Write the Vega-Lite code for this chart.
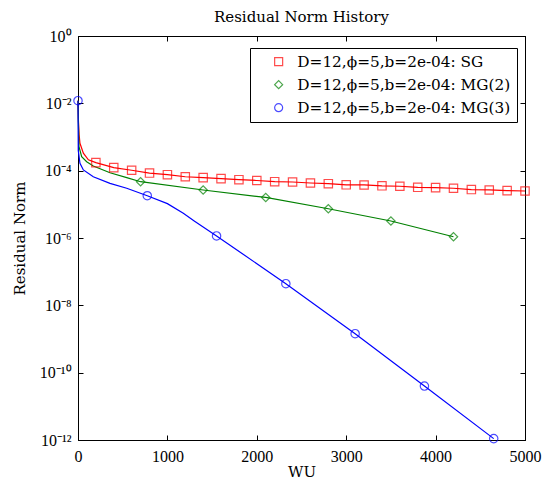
{
  "$schema": "https://vega.github.io/schema/vega-lite/v6.json",
  "width": 447,
  "height": 404,
  "autosize": "none",
  "padding": {"left": 78, "top": 36, "right": 18, "bottom": 44},
  "title": {
    "text": "Residual Norm History",
    "font": "DejaVu Serif",
    "fontSize": 15,
    "fontWeight": "normal",
    "color": "black",
    "offset": 3
  },
  "config": {
    "view": {"stroke": "black", "strokeWidth": 1},
    "axis": {
      "grid": false,
      "domainColor": "black",
      "tickColor": "black",
      "tickSize": -5,
      "labelFlush": false,
      "labelOverlap": false,
      "labelFont": "Liberation Serif",
      "labelFontSize": 16,
      "labelColor": "black",
      "titleFont": "DejaVu Serif",
      "titleFontSize": 15,
      "titleFontWeight": "normal",
      "titleColor": "black"
    },
    "legend": {
      "orient": "none",
      "legendX": 172,
      "legendY": 12,
      "strokeColor": "black",
      "fillColor": "white",
      "padding": 6,
      "labelFont": "DejaVu Serif",
      "labelFontSize": 15.3,
      "labelColor": "black",
      "labelLimit": 0,
      "labelOffset": 11,
      "symbolOffset": 15,
      "symbolSize": 64,
      "symbolStrokeWidth": 1.2,
      "rowPadding": 7
    }
  },
  "data": {
    "values": [
      {"solver": "SG", "wu": 0, "res": 1.2e-2, "marked": false},
      {"solver": "SG", "wu": 5, "res": 3e-3, "marked": false},
      {"solver": "SG", "wu": 12, "res": 1.2e-3, "marked": false},
      {"solver": "SG", "wu": 22, "res": 6.5e-4, "marked": false},
      {"solver": "SG", "wu": 60, "res": 3.3e-4, "marked": false},
      {"solver": "SG", "wu": 116, "res": 2.1e-4, "marked": false},
      {"solver": "SG", "wu": 200, "res": 1.73e-4, "marked": true},
      {"solver": "SG", "wu": 400, "res": 1.23e-4, "marked": true},
      {"solver": "SG", "wu": 600, "res": 1.03e-4, "marked": true},
      {"solver": "SG", "wu": 800, "res": 8.5e-5, "marked": true},
      {"solver": "SG", "wu": 1000, "res": 7.6e-5, "marked": true},
      {"solver": "SG", "wu": 1200, "res": 6.6e-5, "marked": true},
      {"solver": "SG", "wu": 1400, "res": 6.2e-5, "marked": true},
      {"solver": "SG", "wu": 1600, "res": 5.8e-5, "marked": true},
      {"solver": "SG", "wu": 1800, "res": 5.4e-5, "marked": true},
      {"solver": "SG", "wu": 2000, "res": 5.1e-5, "marked": true},
      {"solver": "SG", "wu": 2200, "res": 4.7e-5, "marked": true},
      {"solver": "SG", "wu": 2400, "res": 4.6e-5, "marked": true},
      {"solver": "SG", "wu": 2600, "res": 4.3e-5, "marked": true},
      {"solver": "SG", "wu": 2800, "res": 4.1e-5, "marked": true},
      {"solver": "SG", "wu": 3000, "res": 3.8e-5, "marked": true},
      {"solver": "SG", "wu": 3200, "res": 3.76e-5, "marked": true},
      {"solver": "SG", "wu": 3400, "res": 3.55e-5, "marked": true},
      {"solver": "SG", "wu": 3600, "res": 3.45e-5, "marked": true},
      {"solver": "SG", "wu": 3800, "res": 3.2e-5, "marked": true},
      {"solver": "SG", "wu": 4000, "res": 3.13e-5, "marked": true},
      {"solver": "SG", "wu": 4200, "res": 3.0e-5, "marked": true},
      {"solver": "SG", "wu": 4400, "res": 2.75e-5, "marked": true},
      {"solver": "SG", "wu": 4600, "res": 2.67e-5, "marked": true},
      {"solver": "SG", "wu": 4800, "res": 2.55e-5, "marked": true},
      {"solver": "SG", "wu": 5000, "res": 2.49e-5, "marked": true},

      {"solver": "MG(2)", "wu": 0, "res": 1.2e-2, "marked": false},
      {"solver": "MG(2)", "wu": 4, "res": 3e-3, "marked": false},
      {"solver": "MG(2)", "wu": 11, "res": 5.2e-4, "marked": false},
      {"solver": "MG(2)", "wu": 41, "res": 2.6e-4, "marked": false},
      {"solver": "MG(2)", "wu": 97, "res": 1.85e-4, "marked": false},
      {"solver": "MG(2)", "wu": 171, "res": 1.38e-4, "marked": false},
      {"solver": "MG(2)", "wu": 358, "res": 8.7e-5, "marked": false},
      {"solver": "MG(2)", "wu": 545, "res": 6.2e-5, "marked": false},
      {"solver": "MG(2)", "wu": 700, "res": 4.7e-5, "marked": true},
      {"solver": "MG(2)", "wu": 1400, "res": 2.67e-5, "marked": true},
      {"solver": "MG(2)", "wu": 2100, "res": 1.6e-5, "marked": true},
      {"solver": "MG(2)", "wu": 2800, "res": 7.4e-6, "marked": true},
      {"solver": "MG(2)", "wu": 3500, "res": 3.2e-6, "marked": true},
      {"solver": "MG(2)", "wu": 4200, "res": 1.09e-6, "marked": true},

      {"solver": "MG(3)", "wu": 0, "res": 1.2e-2, "marked": true},
      {"solver": "MG(3)", "wu": 3, "res": 4e-4, "marked": false},
      {"solver": "MG(3)", "wu": 22, "res": 1.66e-4, "marked": false},
      {"solver": "MG(3)", "wu": 60, "res": 1.05e-4, "marked": false},
      {"solver": "MG(3)", "wu": 171, "res": 6.6e-5, "marked": false},
      {"solver": "MG(3)", "wu": 358, "res": 4.2e-5, "marked": false},
      {"solver": "MG(3)", "wu": 545, "res": 3e-5, "marked": false},
      {"solver": "MG(3)", "wu": 775, "res": 1.8e-5, "marked": true},
      {"solver": "MG(3)", "wu": 1000, "res": 1.05e-5, "marked": false},
      {"solver": "MG(3)", "wu": 1178, "res": 5.4e-6, "marked": false},
      {"solver": "MG(3)", "wu": 1300, "res": 3.2e-6, "marked": false},
      {"solver": "MG(3)", "wu": 1550, "res": 1.15e-6, "marked": true},
      {"solver": "MG(3)", "wu": 2325, "res": 4.4e-8, "marked": true},
      {"solver": "MG(3)", "wu": 3100, "res": 1.44e-9, "marked": true},
      {"solver": "MG(3)", "wu": 3875, "res": 4.0e-11, "marked": true},
      {"solver": "MG(3)", "wu": 4650, "res": 1.1e-12, "marked": true}
    ]
  },
  "layer": [
    {
      "mark": {"type": "line", "strokeWidth": 1.2, "clip": false},
      "encoding": {
        "x": {
          "field": "wu",
          "type": "quantitative",
          "scale": {"domain": [0, 5000], "nice": false, "zero": false, "padding": 0},
          "axis": {"values": [0, 1000, 2000, 3000, 4000, 5000], "format": "d", "title": "WU", "labelPadding": 13, "titlePadding": 0}
        },
        "y": {
          "field": "res",
          "type": "quantitative",
          "scale": {"type": "log", "domain": [1e-12, 1], "nice": false, "padding": 0},
          "axis": {
            "values": [1e-12, 1e-10, 1e-8, 1e-6, 1e-4, 1e-2, 1],
            "title": "Residual Norm",
            "labelPadding": 12,
            "titlePadding": 12,
            "labelExpr": "{'0': '10⁰', '-2': '10⁻²', '-4': '10⁻⁴', '-6': '10⁻⁶', '-8': '10⁻⁸', '-10': '10⁻¹⁰', '-12': '10⁻¹²'}['' + round(log(datum.value) / LN10)]"
          }
        },
        "color": {
          "field": "solver",
          "type": "nominal",
          "scale": {"domain": ["SG", "MG(2)", "MG(3)"], "range": ["#ff0000", "#008000", "#0000ff"]},
          "legend": null
        }
      }
    },
    {
      "transform": [{"filter": "datum.marked"}],
      "mark": {"type": "point", "filled": false, "strokeWidth": 1.2, "size": 70, "clip": false},
      "encoding": {
        "x": {
          "field": "wu",
          "type": "quantitative",
          "scale": {"domain": [0, 5000], "nice": false, "zero": false, "padding": 0},
          "axis": {"values": [0, 1000, 2000, 3000, 4000, 5000], "orient": "top", "labels": false, "title": null}
        },
        "y": {
          "field": "res",
          "type": "quantitative",
          "scale": {"type": "log", "domain": [1e-12, 1], "nice": false, "padding": 0},
          "axis": {"values": [1e-12, 1e-10, 1e-8, 1e-6, 1e-4, 1e-2, 1], "orient": "right", "labels": false, "title": null}
        },
        "color": {
          "field": "solver",
          "type": "nominal",
          "legend": {"title": null, "labelExpr": "'D=12,ϕ=5,b=2e-04: ' + datum.label"}
        },
        "shape": {
          "field": "solver",
          "type": "nominal",
          "scale": {"domain": ["SG", "MG(2)", "MG(3)"], "range": ["square", "diamond", "circle"]},
          "legend": {"title": null, "labelExpr": "'D=12,ϕ=5,b=2e-04: ' + datum.label"}
        }
      }
    }
  ],
  "resolve": {
    "axis": {"x": "independent", "y": "independent"},
    "legend": {"color": "independent", "shape": "independent"}
  }
}
